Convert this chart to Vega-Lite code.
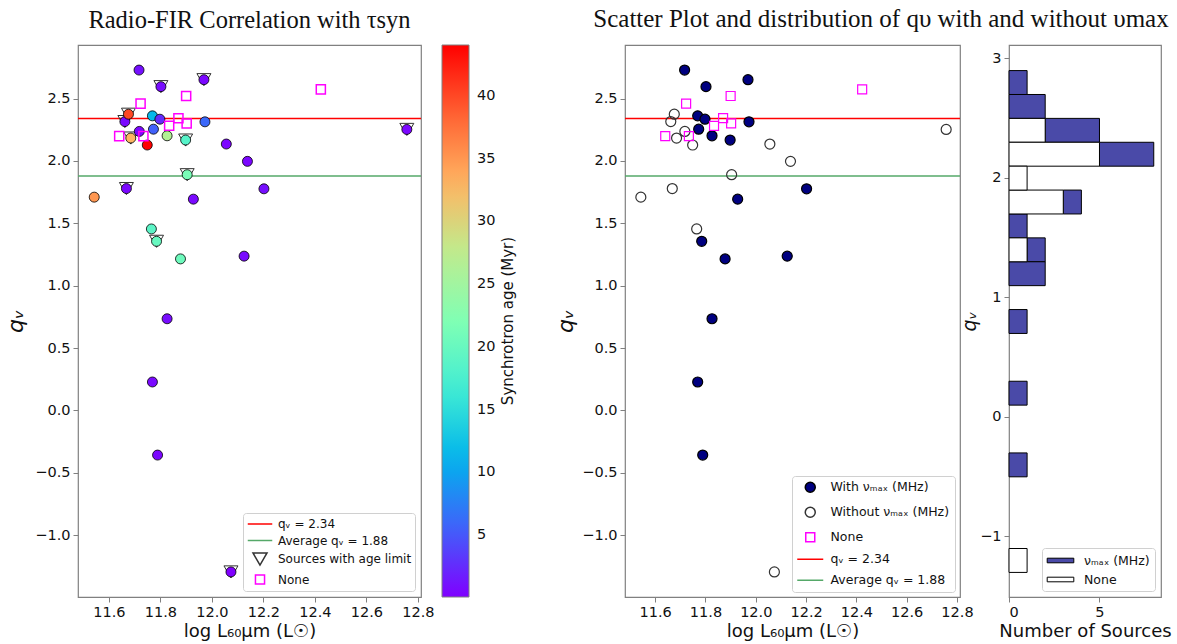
{
"$schema": "https://vega.github.io/schema/vega-lite/v6.json",
"padding": {"left": 4, "top": 6, "right": 5, "bottom": 2},
"config": {
  "font": "DejaVu Sans",
  "view": {"stroke": "#808080", "strokeWidth": 1.2},
  "axis": {"grid": false, "domain": false, "tickColor": "#808080", "tickSize": 5, "labelFont": "DejaVu Sans", "labelFontSize": 14.5, "labelColor": "#111", "titleFont": "DejaVu Sans", "titleFontWeight": "normal", "titleColor": "#111", "labelPadding": 3},
  "legend": {"labelFont": "DejaVu Sans", "labelColor": "#111", "titleFont": "DejaVu Sans", "titleFontWeight": "normal", "titleColor": "#111"},
  "title": {"font": "Liberation Serif", "fontSize": 24.5, "fontWeight": "normal", "color": "#111"}
},
"datasets": {
  "lines": [
    {"q": 2.34, "cat": "qᵥ = 2.34"},
    {"q": 1.88, "cat": "Average qᵥ = 1.88"}
  ],
  "pts": [
    {"x": 11.717, "q": 2.729, "age": 1.0, "lim": false, "g2": "With νₘₐₓ (MHz)", "hist": "νₘₐₓ (MHz)"},
    {"x": 11.802, "q": 2.596, "age": 0.8, "lim": true, "g2": "With νₘₐₓ (MHz)", "hist": "νₘₐₓ (MHz)"},
    {"x": 11.969, "q": 2.652, "age": 0.5, "lim": true, "g2": "With νₘₐₓ (MHz)", "hist": "νₘₐₓ (MHz)"},
    {"x": 11.769, "q": 2.362, "age": 11.5, "lim": false, "g2": "With νₘₐₓ (MHz)", "hist": "νₘₐₓ (MHz)"},
    {"x": 11.798, "q": 2.335, "age": 2.5, "lim": false, "g2": "With νₘₐₓ (MHz)", "hist": "νₘₐₓ (MHz)"},
    {"x": 11.773, "q": 2.255, "age": 5.5, "lim": false, "g2": "With νₘₐₓ (MHz)", "hist": "νₘₐₓ (MHz)"},
    {"x": 11.826, "q": 2.202, "age": 26.5, "lim": false, "g2": "With νₘₐₓ (MHz)", "hist": "νₘₐₓ (MHz)"},
    {"x": 11.898, "q": 2.168, "age": 18.5, "lim": true, "g2": "With νₘₐₓ (MHz)", "hist": "νₘₐₓ (MHz)"},
    {"x": 11.973, "q": 2.314, "age": 6.0, "lim": false, "g2": "With νₘₐₓ (MHz)", "hist": "νₘₐₓ (MHz)"},
    {"x": 11.928, "q": 1.694, "age": 0.6, "lim": false, "g2": "With νₘₐₓ (MHz)", "hist": "νₘₐₓ (MHz)"},
    {"x": 12.202, "q": 1.777, "age": 0.9, "lim": false, "g2": "With νₘₐₓ (MHz)", "hist": "νₘₐₓ (MHz)"},
    {"x": 11.785, "q": 1.356, "age": 20.0, "lim": true, "g2": "With νₘₐₓ (MHz)", "hist": "νₘₐₓ (MHz)"},
    {"x": 11.878, "q": 1.215, "age": 20.5, "lim": false, "g2": "With νₘₐₓ (MHz)", "hist": "νₘₐₓ (MHz)"},
    {"x": 12.125, "q": 1.237, "age": 0.7, "lim": false, "g2": "With νₘₐₓ (MHz)", "hist": "νₘₐₓ (MHz)"},
    {"x": 11.826, "q": 0.735, "age": 0.8, "lim": false, "g2": "With νₘₐₓ (MHz)", "hist": "νₘₐₓ (MHz)"},
    {"x": 11.769, "q": 0.228, "age": 0.6, "lim": false, "g2": "With νₘₐₓ (MHz)", "hist": "νₘₐₓ (MHz)"},
    {"x": 11.789, "q": -0.358, "age": 0.5, "lim": false, "g2": "With νₘₐₓ (MHz)", "hist": "νₘₐₓ (MHz)"},
    {"x": 11.543, "q": 1.71, "age": 35.0, "lim": false, "g2": "Without νₘₐₓ (MHz)", "hist": "None"},
    {"x": 11.668, "q": 1.779, "age": 0.5, "lim": true, "g2": "Without νₘₐₓ (MHz)", "hist": "None"},
    {"x": 11.662, "q": 2.316, "age": 0.6, "lim": true, "g2": "Without νₘₐₓ (MHz)", "hist": "None"},
    {"x": 11.676, "q": 2.375, "age": 40.0, "lim": true, "g2": "Without νₘₐₓ (MHz)", "hist": "None"},
    {"x": 11.718, "q": 2.237, "age": 0.4, "lim": false, "g2": "Without νₘₐₓ (MHz)", "hist": "None"},
    {"x": 11.685, "q": 2.184, "age": 33.0, "lim": true, "g2": "Without νₘₐₓ (MHz)", "hist": "None"},
    {"x": 11.749, "q": 2.128, "age": 44.0, "lim": false, "g2": "Without νₘₐₓ (MHz)", "hist": "None"},
    {"x": 11.765, "q": 1.455, "age": 19.0, "lim": false, "g2": "Without νₘₐₓ (MHz)", "hist": "None"},
    {"x": 11.904, "q": 1.89, "age": 21.5, "lim": true, "g2": "Without νₘₐₓ (MHz)", "hist": "None"},
    {"x": 12.056, "q": 2.136, "age": 0.3, "lim": false, "g2": "Without νₘₐₓ (MHz)", "hist": "None"},
    {"x": 12.138, "q": 1.997, "age": 0.5, "lim": false, "g2": "Without νₘₐₓ (MHz)", "hist": "None"},
    {"x": 12.757, "q": 2.253, "age": 0.4, "lim": true, "g2": "Without νₘₐₓ (MHz)", "hist": "None"},
    {"x": 12.074, "q": -1.295, "age": 0.08, "lim": true, "g2": "Without νₘₐₓ (MHz)", "hist": "None"},
    {"x": 11.64, "q": 2.199, "age": null, "lim": false, "g2": "None", "hist": null},
    {"x": 11.723, "q": 2.46, "age": null, "lim": false, "g2": "None", "hist": null},
    {"x": 11.734, "q": 2.199, "age": null, "lim": false, "g2": "None", "hist": null},
    {"x": 11.834, "q": 2.282, "age": null, "lim": false, "g2": "None", "hist": null},
    {"x": 11.87, "q": 2.343, "age": null, "lim": false, "g2": "None", "hist": null},
    {"x": 11.902, "q": 2.301, "age": null, "lim": false, "g2": "None", "hist": null},
    {"x": 11.9, "q": 2.521, "age": null, "lim": false, "g2": "None", "hist": null},
    {"x": 12.423, "q": 2.574, "age": null, "lim": false, "g2": "None", "hist": null}
  ]
},
"resolve": {"scale": {"fill": "independent", "stroke": "independent", "shape": "independent"}, "legend": {"fill": "independent", "stroke": "independent", "shape": "independent"}},
"bounds": "flush",
"spacing": 204,
"hconcat": [
  {
    "width": 343, "height": 552,
    "title": {"text": "Radio-FIR Correlation with τsyn", "offset": 12, "anchor": "middle", "frame": "group"},
    "layer": [
      {
        "data": {"name": "lines"},
        "mark": {"type": "rule", "strokeWidth": 1.5},
        "encoding": {
          "y": {"field": "q", "type": "quantitative", "scale": {"domain": [-1.496, 2.93], "nice": false, "zero": false}, "axis": {"title": "qᵥ", "titleFontSize": 22, "titleFontStyle": "italic", "values": [-1.5, -1, -0.5, 0, 0.5, 1, 1.5, 2, 2.5], "format": ".1f", "titlePadding": 7}},
          "stroke": {"field": "cat", "type": "nominal",
            "scale": {"domain": ["qᵥ = 2.34", "Average qᵥ = 1.88", "Sources with age limit", "None"], "range": ["#ff0000", "#55a868", "#333333", "#ff00ff"]},
            "legend": {"title": null, "orient": "bottom-right", "offset": 6, "padding": 3, "rowPadding": 2.5, "symbolSize": 196, "symbolStrokeWidth": 1.5, "symbolOffset": 6, "labelOffset": 10, "labelFontSize": 12, "fillColor": "white", "strokeColor": "#d0d0d0", "cornerRadius": 3, "symbolFillColor": "transparent"}}
        }
      },
      {
        "data": {"name": "pts"},
        "transform": [{"filter": "datum.lim"}],
        "mark": {"type": "point", "size": 196, "strokeWidth": 1, "filled": false, "opacity": 1},
        "encoding": {
          "x": {"field": "x", "type": "quantitative", "scale": {"domain": [11.48, 12.812], "nice": false, "zero": false}, "axis": {"title": "log L₆₀μm (L☉)", "titleFontSize": 18, "values": [11.6, 11.8, 12.0, 12.2, 12.4, 12.6, 12.8], "format": ".1f"}},
          "y": {"field": "q", "type": "quantitative"},
          "shape": {"datum": "Sources with age limit", "type": "nominal",
            "scale": {"domain": ["qᵥ = 2.34", "Average qᵥ = 1.88", "Sources with age limit", "None"], "range": ["M-1.75,0H1.75", "M-1.75,0H1.75", "triangle-down", "M-0.65,-0.65H0.65V0.65H-0.65Z"]},
            "legend": {"title": null, "orient": "bottom-right", "offset": 6, "padding": 3, "rowPadding": 2.5, "symbolSize": 196, "symbolStrokeWidth": 1.5, "symbolOffset": 6, "labelOffset": 10, "labelFontSize": 12, "fillColor": "white", "strokeColor": "#d0d0d0", "cornerRadius": 3, "symbolFillColor": "transparent"}},
          "stroke": {"datum": "Sources with age limit", "type": "nominal"}
        }
      },
      {
        "data": {"name": "pts"},
        "transform": [{"filter": "datum.age != null"}],
        "mark": {"type": "point", "shape": "circle", "size": 100, "filled": true, "stroke": "black", "strokeWidth": 0.8, "opacity": 1},
        "encoding": {
          "x": {"field": "x", "type": "quantitative"},
          "y": {"field": "q", "type": "quantitative"},
          "fill": {"field": "age", "type": "quantitative",
            "scale": {"domain": [0.08, 44.05], "range": ["#8000ff", "#4062fa", "#00b4ec", "#40ecd4", "#80ffb4", "#bfec8e", "#ffb462", "#ff6232", "#ff0000"], "interpolate": "rgb"},
            "legend": {"title": "Synchrotron age (Myr)", "orient": "right", "offset": 21, "direction": "vertical", "gradientLength": 552, "gradientThickness": 27, "gradientStrokeColor": "#808080", "gradientStrokeWidth": 1, "values": [5, 10, 15, 20, 25, 30, 35, 40], "format": "d", "labelFontSize": 14.5, "labelOffset": 8, "labelOverlap": false, "titleOrient": "right", "titleAnchor": "middle", "titleFontSize": 15, "titlePadding": 6, "encoding": {"title": {"angle": {"value": 270}, "baseline": {"value": "top"}}}}}
        }
      },
      {
        "data": {"name": "pts"},
        "transform": [{"filter": "datum.g2 === 'None'"}],
        "mark": {"type": "point", "size": 196, "strokeWidth": 1.5, "filled": false, "opacity": 1},
        "encoding": {
          "x": {"field": "x", "type": "quantitative"},
          "y": {"field": "q", "type": "quantitative"},
          "shape": {"datum": "None", "type": "nominal"},
          "stroke": {"datum": "None", "type": "nominal"}
        }
      }
    ]
  },
  {
    "title": {"text": "Scatter Plot and distribution of qυ with and without υmax", "offset": 12, "anchor": "middle", "dx": 18, "fontSize": 25},
    "bounds": "flush",
    "spacing": 49,
    "resolve": {"scale": {"fill": "independent", "stroke": "independent", "shape": "independent"}, "legend": {"fill": "independent", "stroke": "independent", "shape": "independent"}},
    "hconcat": [
      {
        "width": 335, "height": 552,
        "layer": [
          {
            "data": {"name": "lines"},
            "mark": {"type": "rule", "strokeWidth": 1.5},
            "encoding": {
              "y": {"field": "q", "type": "quantitative", "scale": {"domain": [-1.496, 2.93], "nice": false, "zero": false}, "axis": {"title": "qᵥ", "titleFontSize": 22, "titleFontStyle": "italic", "values": [-1.5, -1, -0.5, 0, 0.5, 1, 1.5, 2, 2.5], "format": ".1f", "titlePadding": 4}},
              "stroke": {"field": "cat", "type": "nominal",
                "scale": {"domain": ["With νₘₐₓ (MHz)", "Without νₘₐₓ (MHz)", "None", "qᵥ = 2.34", "Average qᵥ = 1.88"], "range": ["#000000", "#333333", "#ff00ff", "#ff0000", "#55a868"]},
                "legend": {"title": null, "orient": "bottom-right", "offset": 5, "padding": 5, "rowPadding": 8, "symbolSize": 100, "symbolStrokeWidth": 1.5, "symbolOffset": 7, "labelOffset": 14, "labelFontSize": 12.5, "fillColor": "white", "strokeColor": "#d0d0d0", "cornerRadius": 3}}
            }
          },
          {
            "data": {"name": "pts"},
            "mark": {"type": "point", "size": 100, "strokeWidth": 1.2, "opacity": 1},
            "encoding": {
              "x": {"field": "x", "type": "quantitative", "scale": {"domain": [11.48, 12.812], "nice": false, "zero": false}, "axis": {"title": "log L₆₀μm (L☉)", "titleFontSize": 18, "values": [11.6, 11.8, 12.0, 12.2, 12.4, 12.6, 12.8], "format": ".1f"}},
              "y": {"field": "q", "type": "quantitative"},
              "fill": {"field": "g2", "type": "nominal",
                "scale": {"domain": ["With νₘₐₓ (MHz)", "Without νₘₐₓ (MHz)", "None", "qᵥ = 2.34", "Average qᵥ = 1.88"], "range": ["#000080", "transparent", "transparent", "transparent", "transparent"]},
                "legend": {"title": null, "orient": "bottom-right", "offset": 5, "padding": 5, "rowPadding": 8, "symbolSize": 100, "symbolStrokeWidth": 1.5, "symbolOffset": 7, "labelOffset": 14, "labelFontSize": 12.5, "fillColor": "white", "strokeColor": "#d0d0d0", "cornerRadius": 3}},
              "shape": {"field": "g2", "type": "nominal",
                "scale": {"domain": ["With νₘₐₓ (MHz)", "Without νₘₐₓ (MHz)", "None", "qᵥ = 2.34", "Average qᵥ = 1.88"], "range": ["circle", "circle", "M-0.9,-0.9H0.9V0.9H-0.9Z", "M-2.6,0H2.6", "M-2.6,0H2.6"]},
                "legend": {"title": null, "orient": "bottom-right", "offset": 5, "padding": 5, "rowPadding": 8, "symbolSize": 100, "symbolStrokeWidth": 1.5, "symbolOffset": 7, "labelOffset": 14, "labelFontSize": 12.5, "fillColor": "white", "strokeColor": "#d0d0d0", "cornerRadius": 3}},
              "stroke": {"field": "g2", "type": "nominal"}
            }
          }
        ]
      },
      {
        "width": 152, "height": 552,
        "data": {"name": "pts"},
        "transform": [{"filter": "datum.hist != null"}],
        "mark": {"type": "bar", "stroke": "black", "strokeWidth": 1, "binSpacing": 0},
        "encoding": {
          "y": {"field": "q", "type": "quantitative", "bin": {"extent": [-1.3, 2.9], "step": 0.2, "nice": false},
            "scale": {"domain": [-1.51, 3.11], "nice": false, "zero": false},
            "axis": {"title": "qᵥ", "titleFontSize": 19, "titleFontStyle": "italic", "values": [-1, 0, 1, 2, 3], "format": "d", "titlePadding": 0}},
          "x": {"aggregate": "count", "type": "quantitative", "stack": "zero", "scale": {"domain": [0, 8.4], "nice": false},
            "axis": {"title": "Number of Sources", "titleFontSize": 18, "values": [0, 5], "format": "d"}},
          "fill": {"field": "hist", "type": "nominal",
            "scale": {"domain": ["νₘₐₓ (MHz)", "None"], "range": ["#4a4aa8", "#ffffff"]},
            "legend": {"title": null, "orient": "bottom-right", "offset": 6, "padding": 5, "rowPadding": 5, "symbolSize": 196, "symbolType": "M-1.9,-0.33H1.9V0.33H-1.9Z", "symbolStrokeColor": "black", "symbolStrokeWidth": 1, "symbolOffset": 6, "labelOffset": 16, "labelFontSize": 12.5, "fillColor": "white", "strokeColor": "#d0d0d0", "cornerRadius": 3}},
          "order": {"field": "hist", "sort": "ascending"}
        }
      }
    ]
  }
]
}
